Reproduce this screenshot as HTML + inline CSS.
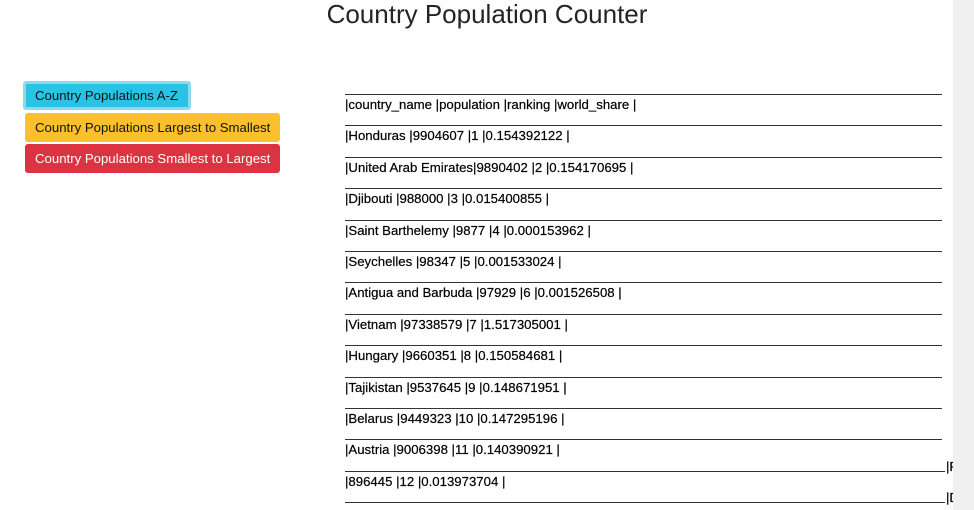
<!DOCTYPE html>
<html><head><meta charset="utf-8"><style>
body{margin:0;width:974px;height:510px;overflow:hidden;background:#fff;font-family:"Liberation Sans",sans-serif;position:relative}
.t{position:absolute;left:0;width:974px;top:0;text-align:center;font-size:26px;color:#212529;line-height:28px}
.btn{position:absolute;font-size:13.2px;height:29px;line-height:29px;padding:0 0 0 10px;border-radius:3px;box-sizing:border-box;white-space:nowrap;overflow:hidden}
.ln{position:absolute;left:345px;width:597px;height:0;border-top:1.5px solid #333}
.r{position:absolute;left:345px;font-size:13.2px;color:#000;line-height:16px;white-space:pre;-webkit-text-stroke:0.2px #000}
.sb{position:absolute;left:953px;top:0;width:21px;height:510px;background:#f0f0f0}
</style></head><body>
<div class="t">Country Population Counter</div>
<div class="btn" style="left:23px;top:81px;width:168px;background:#2ac3e6;border:3px solid #8fd9ee;color:#111;line-height:23px;padding-left:9px">Country Populations A-Z</div>
<div class="btn" style="left:25px;top:113px;width:255px;background:#fcc02c;color:#111">Country Populations Largest to Smallest</div>
<div class="btn" style="left:25px;top:144px;width:255px;background:#db3341;color:#fff">Country Populations Smallest to Largest</div>
<div id="tbl"></div>
<div class="sb"></div>
<script>
const rows=["|country_name |population |ranking |world_share |","|Honduras |9904607 |1 |0.154392122 |","|United Arab Emirates|9890402 |2 |0.154170695 |","|Djibouti |988000 |3 |0.015400855 |","|Saint Barthelemy |9877 |4 |0.000153962 |","|Seychelles |98347 |5 |0.001533024 |","|Antigua and Barbuda |97929 |6 |0.001526508 |","|Vietnam |97338579 |7 |1.517305001 |","|Hungary |9660351 |8 |0.150584681 |","|Tajikistan |9537645 |9 |0.148671951 |","|Belarus |9449323 |10 |0.147295196 |","|Austria |9006398 |11 |0.140390921 |","|896445 |12 |0.013973704 |"];
const tbl=document.getElementById('tbl');
for(let i=0;i<14;i++){
 const l=document.createElement('div');l.className='ln';
 
 
 l.style.top=(94+i*31.4)+'px';
 if(i>=12){l.style.width='600px';}
 tbl.appendChild(l);
}
rows.forEach((s,i)=>{
 const d=document.createElement('div');d.className='r';
 
 
 d.style.top=(97+i*31.4)+'px';d.textContent=s;tbl.appendChild(d);
});
["|F","|D"].forEach((s,i)=>{
 const d=document.createElement('div');d.className='r';
 
 
 d.style.left='946px';d.style.top=(459+i*31.4)+'px';d.textContent=s;tbl.appendChild(d);
});
</script>
</body></html>
